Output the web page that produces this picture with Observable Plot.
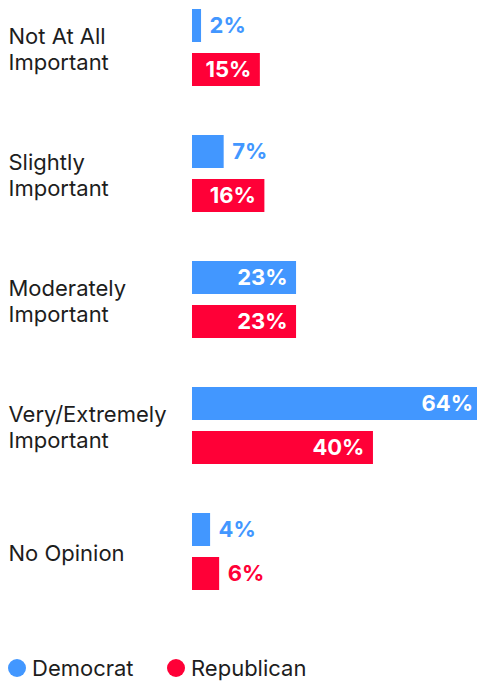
<!DOCTYPE html>
<html>
<head>
<meta charset="utf-8">
<script src="https://cdn.jsdelivr.net/npm/d3@7"></script>
<script src="https://cdn.jsdelivr.net/npm/@observablehq/plot@0.6"></script>
<style>
  html, body { margin: 0; padding: 0; background: #fff; }
  body { width: 477px; height: 682px; overflow: hidden; font-family: Inter, "Noto Sans", sans-serif; }
  #legend { position: relative; height: 52px; font-size: 22px; color: #1d1d1d; }
  .item { position: absolute; top: 28px; display: flex; align-items: center; height: 20px; }
  .dot { width: 18px; height: 18px; border-radius: 50%; margin-right: 6px; }
</style>
</head>
<body>
<div id="chart"></div>
<div id="legend"></div>
<script>
const categories = ["Not At All Important", "Slightly Important", "Moderately Important", "Very/Extremely Important", "No Opinion"];
const categoryLabels = ["Not At All\nImportant", "Slightly\nImportant", "Moderately\nImportant", "Very/Extremely\nImportant", "No Opinion"];
const parties = ["Democrat", "Republican"];
const democrat = [2, 7, 23, 64, 4];
const republican = [15, 16, 23, 40, 6];
const colors = ["#4297ff", "#ff0037"];

const data = [];
categories.forEach((c, i) => {
  data.push({category: c, party: "Democrat", value: democrat[i]});
  data.push({category: c, party: "Republican", value: republican[i]});
});
const labelData = categories.map((c, i) => ({category: c, label: categoryLabels[i]}));
const inside = data.filter(d => d.value >= 10);
const outside = data.filter(d => d.value < 10);

const chart = Plot.plot({
  width: 477,
  height: 630,
  marginLeft: 192,
  marginRight: 0,
  marginTop: 9,
  marginBottom: 40,
  style: {fontFamily: "Inter, 'Noto Sans', sans-serif", overflow: "visible"},
  x: {domain: [0, 63], axis: null},
  y: {domain: parties, axis: null, paddingInner: 0.25, paddingOuter: 0},
  fy: {domain: categories, axis: null, paddingInner: 0.389, paddingOuter: 0},
  color: {domain: parties, range: colors},
  marks: [
    Plot.barX(data, {x: "value", y: "party", fy: "category", fill: "party"}),
    Plot.text(inside, {x: "value", y: "party", fy: "category", text: d => d.value + "%",
      textAnchor: "end", dx: -9, fill: "white", fontSize: 22, fontWeight: 700}),
    Plot.text(outside, {x: "value", y: "party", fy: "category", text: d => d.value + "%",
      textAnchor: "start", dx: 8, fill: "party", fontSize: 22, fontWeight: 700}),
    Plot.text(labelData, {fy: "category", text: "label", frameAnchor: "left", textAnchor: "start",
      dx: -184, dy: 1, fontSize: 22, lineHeight: 1.18, fill: "#1d1d1d"})
  ]
});
document.getElementById("chart").append(chart);

const legend = document.getElementById("legend");
const lefts = [8, 167];
parties.forEach((p, i) => {
  const item = document.createElement("div");
  item.className = "item";
  item.style.left = lefts[i] + "px";
  const dot = document.createElement("span");
  dot.className = "dot";
  dot.style.background = colors[i];
  const label = document.createElement("span");
  label.textContent = p;
  item.append(dot, label);
  legend.append(item);
});
</script>
</body>
</html>
